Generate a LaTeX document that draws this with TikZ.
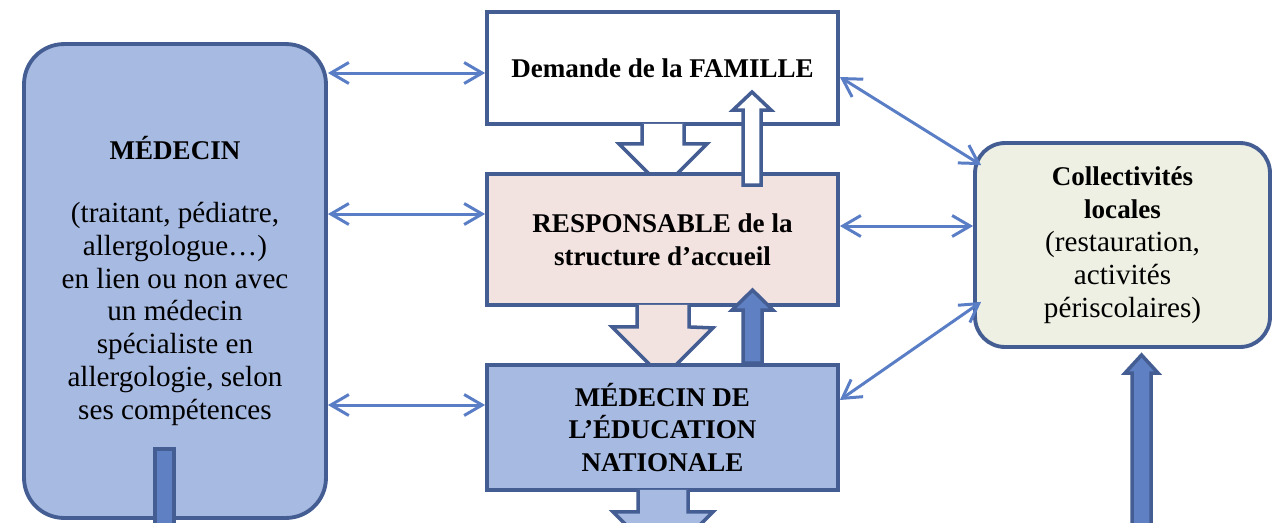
\documentclass[tikz,border=0pt]{standalone}
\usepackage{fontspec}
\setmainfont{Liberation Serif}
\usetikzlibrary{arrows.meta}

\definecolor{edgeblue}{RGB}{68,94,148}
\definecolor{linkblue}{RGB}{90,126,198}
\definecolor{bluefill}{RGB}{167,186,226}
\definecolor{pinkfill}{RGB}{242,226,224}
\definecolor{creamfill}{RGB}{238,240,227}
\definecolor{darkfill}{RGB}{95,128,194}

\newcommand{\hd}[1]{{\fontsize{15.4}{18.7}\selectfont\bfseries #1}}

\tikzset{
  box/.style={draw=edgeblue, line width=2.2pt, align=center, inner sep=0pt,
    font=\fontsize{16.6}{18.7}\selectfont},
  head/.style={font=\fontsize{15.4}{18.7}\selectfont\bfseries},
  link/.style={draw=linkblue, line width=1.7pt,
    {Straight Barb[length=0.36cm,width=0.42cm]}-{Straight Barb[length=0.36cm,width=0.42cm]}},
  blockarrow/.style={draw=edgeblue, line width=2pt, fill=white},
}

\begin{document}
\begin{tikzpicture}[x=0.02cm, y=-0.02cm]
    \useasboundingbox (0,0) rectangle (1280,522);
    \clip (0,0) rectangle (1280,522);

    % left: doctor
    \node[box, fill=bluefill, rounded corners=0.8cm, minimum width=6.04cm, minimum height=9.48cm] (medecin) at (175,281)
        {\hd{MÉDECIN}\\[17pt] (traitant, pédiatre,\\ allergologue…)\\ en lien ou non avec\\ un médecin\\ spécialiste en\\ allergologie, selon\\ ses compétences};
    \fill[darkfill, draw=edgeblue, line width=2pt] (155,449) rectangle (174,540);

    % middle column
    \node[box, head, fill=white, minimum width=7.02cm, minimum height=2.24cm] (famille) at (662.5,68) {Demande de la FAMILLE};
    \filldraw[blockarrow] ([yshift=0.04cm]642,0 |- famille.south) -- ++(0,20) -- ++(-23,0) -- ++(44,44) -- ++(44,-44) -- ++(-23,0) -- ++(0,-20);

    \node[box, head, fill=pinkfill, minimum width=7.02cm, minimum height=2.62cm] (resp) at (662.5,239.5) {RESPONSABLE de la\\ structure d’accueil};
    \filldraw[blockarrow, fill=pinkfill] ([yshift=0.04cm]637,0 |- resp.south) -- ++(0,22) -- ++(-25,0) -- ++(51,51) -- ++(50,-50) -- ++(-24,-1) -- ++(0,-22);
    \filldraw[blockarrow] (743,185) -- (743,110) -- (733,110) -- (752,92) -- (771,110) -- (761,110) -- (761,185) -- cycle;

    \node[box, head, fill=bluefill, minimum width=7.02cm, minimum height=2.5cm] (men) at (662.5,427.5) {MÉDECIN DE\\ L’ÉDUCATION\\ NATIONALE};
    \filldraw[blockarrow, fill=bluefill] ([yshift=0.04cm]638,0 |- men.south) -- ++(0,22) -- ++(-25,0) -- ++(50,50) -- ++(50,-50) -- ++(-25,0) -- ++(0,-22);
    \filldraw[blockarrow, fill=darkfill] (743,0 |- men.north) -- ++(0,-53) -- ++(-11,0) -- ++(20.5,-20) -- ++(20.5,20) -- ++(-11,0) -- ++(0,53) -- cycle;

    % right: local authorities
    \node[box, fill=creamfill, rounded corners=0.6cm, minimum width=5.9cm, minimum height=4.08cm] (coll) at (1122.5,245)
        {\hd{Collectivités}\\ \hd{locales}\\ (restauration,\\ activités\\ périscolaires)};
    \filldraw[blockarrow, fill=darkfill] (1132,540) -- (1132,373) -- (1125,373) -- (1141.5,355) -- (1158,373) -- (1151,373) -- (1151,540) -- cycle;

    % links
    \draw[link] (medecin.east |- 0,73) -- (famille.west |- 0,73);
    \draw[link] (medecin.east |- 0,214) -- (resp.west |- 0,214);
    \draw[link] (medecin.east |- 0,405) -- (men.west |- 0,405);
    \draw[link] (famille.east |- 0,77) -- ([shift={(8,24)}]coll.north west);
    \draw[link] (resp.east |- 0,226) -- (coll.west |- 0,226);
    \draw[link] (men.east |- 0,400) -- ([shift={(8,-47)}]coll.south west);
\end{tikzpicture}
\end{document}
